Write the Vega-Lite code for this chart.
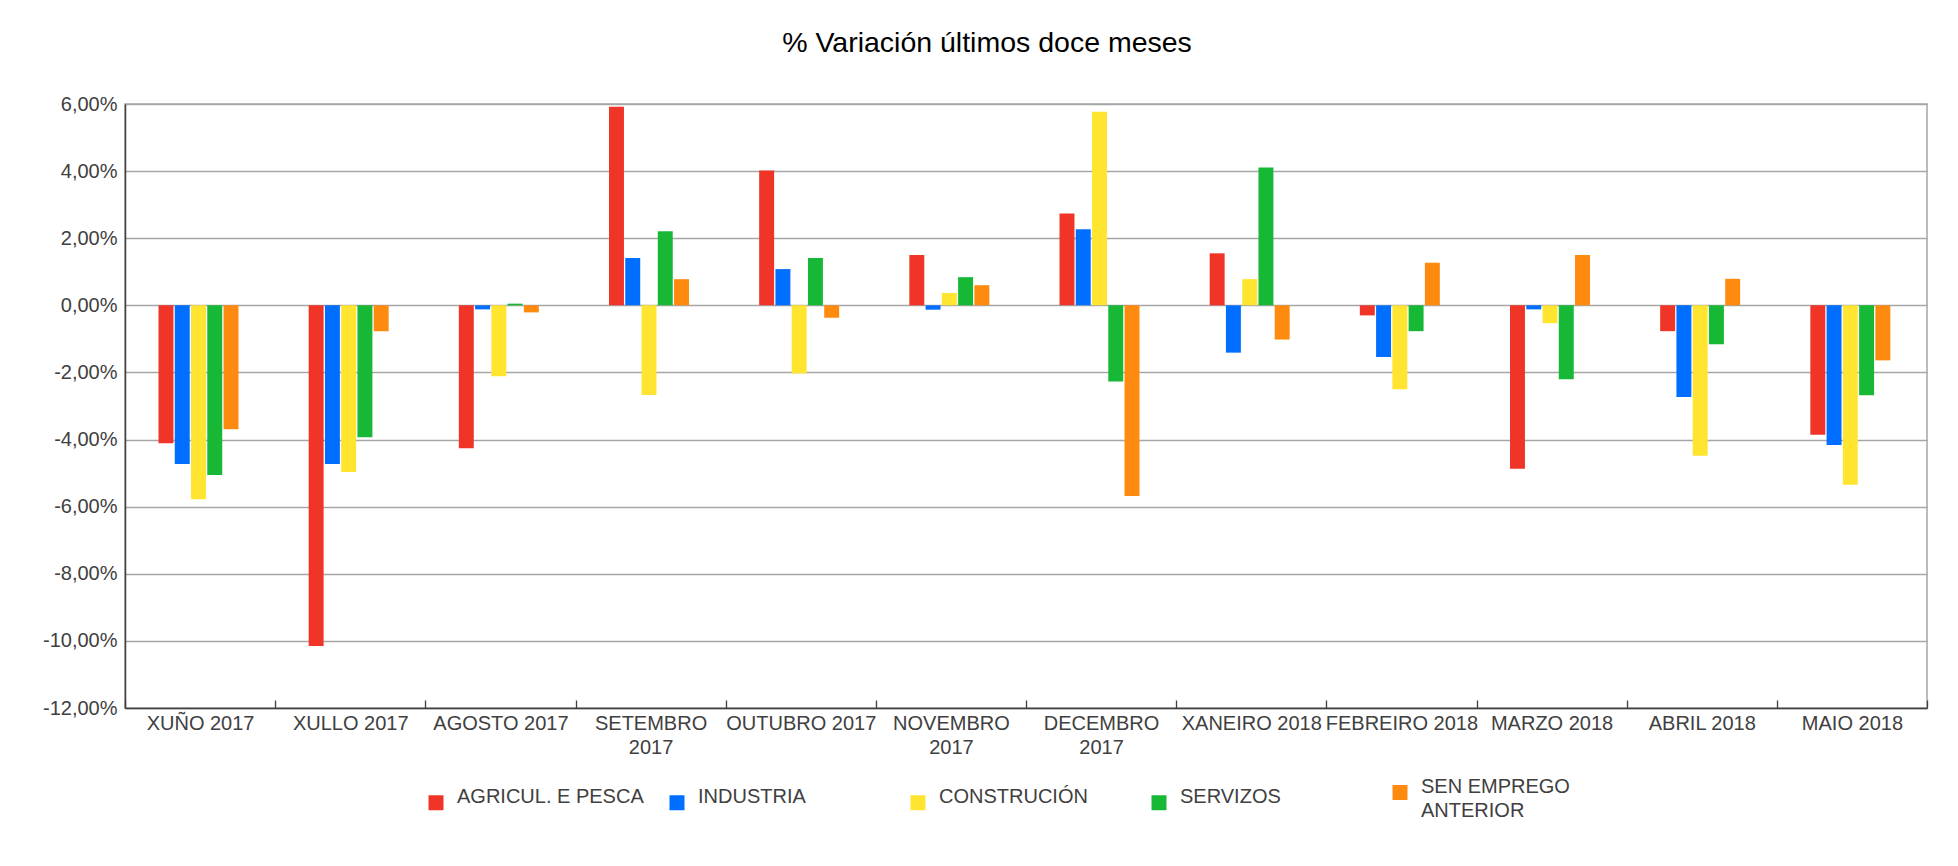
{
  "$schema": "https://vega.github.io/schema/vega-lite/v6.json",
  "autosize": {"type": "none"},
  "padding": {"left": 125, "top": 104, "right": 31, "bottom": 158},
  "width": 1802,
  "height": 604,
  "background": "white",
  "config": {
    "font": "Liberation Sans",
    "view": {"stroke": "#a6a6a6", "strokeWidth": 1.5}
  },
  "title": {
    "text": "% Variación últimos doce meses",
    "fontSize": 28.5,
    "fontWeight": "normal",
    "color": "#000000",
    "anchor": "middle",
    "frame": "group",
    "dx": -39,
    "offset": 37
  },
  "data": {
    "values": [
      {"mes": "XUÑO 2017", "serie": "AGRICUL. E PESCA", "valor": -4.11},
      {"mes": "XUÑO 2017", "serie": "INDUSTRIA", "valor": -4.73},
      {"mes": "XUÑO 2017", "serie": "CONSTRUCIÓN", "valor": -5.78},
      {"mes": "XUÑO 2017", "serie": "SERVIZOS", "valor": -5.06},
      {"mes": "XUÑO 2017", "serie": "SEN EMPREGO ANTERIOR", "valor": -3.69},
      {"mes": "XULLO 2017", "serie": "AGRICUL. E PESCA", "valor": -10.15},
      {"mes": "XULLO 2017", "serie": "INDUSTRIA", "valor": -4.73},
      {"mes": "XULLO 2017", "serie": "CONSTRUCIÓN", "valor": -4.97},
      {"mes": "XULLO 2017", "serie": "SERVIZOS", "valor": -3.93},
      {"mes": "XULLO 2017", "serie": "SEN EMPREGO ANTERIOR", "valor": -0.77},
      {"mes": "AGOSTO 2017", "serie": "AGRICUL. E PESCA", "valor": -4.26},
      {"mes": "AGOSTO 2017", "serie": "INDUSTRIA", "valor": -0.12},
      {"mes": "AGOSTO 2017", "serie": "CONSTRUCIÓN", "valor": -2.11},
      {"mes": "AGOSTO 2017", "serie": "SERVIZOS", "valor": 0.05},
      {"mes": "AGOSTO 2017", "serie": "SEN EMPREGO ANTERIOR", "valor": -0.21},
      {"mes": "SETEMBRO 2017", "serie": "AGRICUL. E PESCA", "valor": 5.92},
      {"mes": "SETEMBRO 2017", "serie": "INDUSTRIA", "valor": 1.41},
      {"mes": "SETEMBRO 2017", "serie": "CONSTRUCIÓN", "valor": -2.67},
      {"mes": "SETEMBRO 2017", "serie": "SERVIZOS", "valor": 2.21},
      {"mes": "SETEMBRO 2017", "serie": "SEN EMPREGO ANTERIOR", "valor": 0.78},
      {"mes": "OUTUBRO 2017", "serie": "AGRICUL. E PESCA", "valor": 4.02},
      {"mes": "OUTUBRO 2017", "serie": "INDUSTRIA", "valor": 1.08},
      {"mes": "OUTUBRO 2017", "serie": "CONSTRUCIÓN", "valor": -2.03},
      {"mes": "OUTUBRO 2017", "serie": "SERVIZOS", "valor": 1.41},
      {"mes": "OUTUBRO 2017", "serie": "SEN EMPREGO ANTERIOR", "valor": -0.37},
      {"mes": "NOVEMBRO 2017", "serie": "AGRICUL. E PESCA", "valor": 1.5},
      {"mes": "NOVEMBRO 2017", "serie": "INDUSTRIA", "valor": -0.13},
      {"mes": "NOVEMBRO 2017", "serie": "CONSTRUCIÓN", "valor": 0.37},
      {"mes": "NOVEMBRO 2017", "serie": "SERVIZOS", "valor": 0.84},
      {"mes": "NOVEMBRO 2017", "serie": "SEN EMPREGO ANTERIOR", "valor": 0.6},
      {"mes": "DECEMBRO 2017", "serie": "AGRICUL. E PESCA", "valor": 2.74},
      {"mes": "DECEMBRO 2017", "serie": "INDUSTRIA", "valor": 2.27},
      {"mes": "DECEMBRO 2017", "serie": "CONSTRUCIÓN", "valor": 5.77},
      {"mes": "DECEMBRO 2017", "serie": "SERVIZOS", "valor": -2.27},
      {"mes": "DECEMBRO 2017", "serie": "SEN EMPREGO ANTERIOR", "valor": -5.68},
      {"mes": "XANEIRO 2018", "serie": "AGRICUL. E PESCA", "valor": 1.55},
      {"mes": "XANEIRO 2018", "serie": "INDUSTRIA", "valor": -1.41},
      {"mes": "XANEIRO 2018", "serie": "CONSTRUCIÓN", "valor": 0.78},
      {"mes": "XANEIRO 2018", "serie": "SERVIZOS", "valor": 4.11},
      {"mes": "XANEIRO 2018", "serie": "SEN EMPREGO ANTERIOR", "valor": -1.02},
      {"mes": "FEBREIRO 2018", "serie": "AGRICUL. E PESCA", "valor": -0.3},
      {"mes": "FEBREIRO 2018", "serie": "INDUSTRIA", "valor": -1.54},
      {"mes": "FEBREIRO 2018", "serie": "CONSTRUCIÓN", "valor": -2.5},
      {"mes": "FEBREIRO 2018", "serie": "SERVIZOS", "valor": -0.77},
      {"mes": "FEBREIRO 2018", "serie": "SEN EMPREGO ANTERIOR", "valor": 1.27},
      {"mes": "MARZO 2018", "serie": "AGRICUL. E PESCA", "valor": -4.87},
      {"mes": "MARZO 2018", "serie": "INDUSTRIA", "valor": -0.12},
      {"mes": "MARZO 2018", "serie": "CONSTRUCIÓN", "valor": -0.53},
      {"mes": "MARZO 2018", "serie": "SERVIZOS", "valor": -2.2},
      {"mes": "MARZO 2018", "serie": "SEN EMPREGO ANTERIOR", "valor": 1.5},
      {"mes": "ABRIL 2018", "serie": "AGRICUL. E PESCA", "valor": -0.77},
      {"mes": "ABRIL 2018", "serie": "INDUSTRIA", "valor": -2.73},
      {"mes": "ABRIL 2018", "serie": "CONSTRUCIÓN", "valor": -4.48},
      {"mes": "ABRIL 2018", "serie": "SERVIZOS", "valor": -1.16},
      {"mes": "ABRIL 2018", "serie": "SEN EMPREGO ANTERIOR", "valor": 0.79},
      {"mes": "MAIO 2018", "serie": "AGRICUL. E PESCA", "valor": -3.86},
      {"mes": "MAIO 2018", "serie": "INDUSTRIA", "valor": -4.16},
      {"mes": "MAIO 2018", "serie": "CONSTRUCIÓN", "valor": -5.35},
      {"mes": "MAIO 2018", "serie": "SERVIZOS", "valor": -2.68},
      {"mes": "MAIO 2018", "serie": "SEN EMPREGO ANTERIOR", "valor": -1.64}
    ]
  },
  "mark": {"type": "bar"},
  "encoding": {
    "x": {
      "field": "mes",
      "type": "nominal",
      "sort": null,
      "scale": {"paddingInner": 0, "paddingOuter": 0},
      "axis": {
        "title": null,
        "labelAngle": 0,
        "labelFontSize": 20,
        "labelColor": "#404040",
        "labelLineHeight": 24,
        "labelOverlap": false,
        "labelLimit": 300,
        "labelPadding": 13,
        "labelExpr": "indexof(['SETEMBRO 2017','NOVEMBRO 2017','DECEMBRO 2017'], datum.value) >= 0 ? split(datum.value, ' ') : datum.value",
        "tickBand": "extent",
        "tickSize": -8,
        "tickColor": "#404040",
        "tickWidth": 1.3,
        "domainColor": "#404040",
        "domainWidth": 1.5
      }
    },
    "xOffset": {
      "field": "serie",
      "type": "nominal",
      "sort": ["AGRICUL. E PESCA", "INDUSTRIA", "CONSTRUCIÓN", "SERVIZOS", "SEN EMPREGO ANTERIOR"],
      "scale": {"paddingInner": 0.08, "paddingOuter": 0, "range": [33.5, 113.5]}
    },
    "y": {
      "field": "valor",
      "type": "quantitative",
      "scale": {"domain": [-12, 6], "nice": false},
      "axis": {
        "title": null,
        "values": [-12, -10, -8, -6, -4, -2, 0, 2, 4, 6],
        "labelExpr": "(datum.value < 0 ? '-' : '') + replace(format(abs(datum.value), '.2f'), '.', ',') + '%'",
        "labelFontSize": 20,
        "labelColor": "#404040",
        "labelPadding": 8,
        "ticks": false,
        "grid": true,
        "gridColor": "#a6a6a6",
        "gridWidth": 1.5,
        "domainColor": "#404040",
        "domainWidth": 1.5
      }
    },
    "color": {
      "field": "serie",
      "type": "nominal",
      "scale": {
        "domain": ["AGRICUL. E PESCA", "INDUSTRIA", "CONSTRUCIÓN", "SERVIZOS", "SEN EMPREGO ANTERIOR"],
        "range": ["#f03528", "#006fff", "#ffe530", "#17b835", "#ff8a10"]
      },
      "legend": {
        "title": null,
        "orient": "none",
        "legendX": 301,
        "legendY": 678.5,
        "direction": "horizontal",
        "columns": 5,
        "columnPadding": 23,
        "gridAlign": "all",
        "padding": 0,
        "labelFontSize": 20,
        "labelColor": "#404040",
        "labelOffset": 11,
        "labelLimit": 300,
        "symbolType": "square",
        "symbolSize": 225,
        "symbolStrokeWidth": 0,
        "labelExpr": "datum.label == 'SEN EMPREGO ANTERIOR' ? ['SEN EMPREGO', 'ANTERIOR'] : datum.label",
        "encode": {"labels": {"update": {"dy": {"value": -6}, "lineHeight": {"value": 24}}}}
      }
    }
  }
}
